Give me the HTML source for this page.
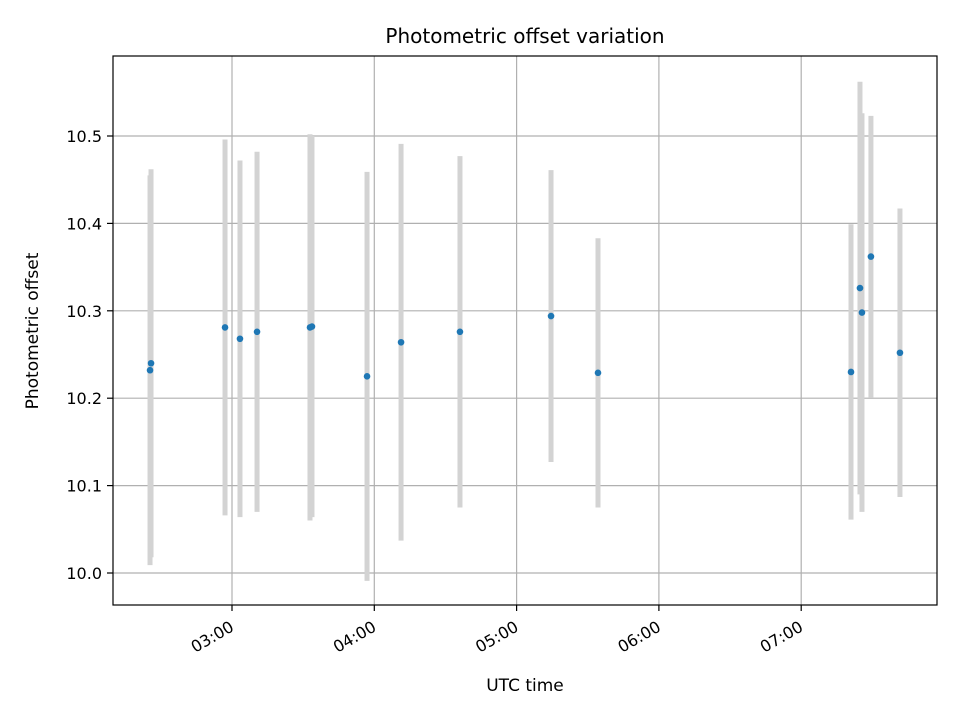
<!DOCTYPE html>
<html><head><meta charset="utf-8"><style>
body{margin:0;background:#fff}
svg{font-family:"DejaVu Sans","Liberation Sans",sans-serif}
</style></head><body>
<svg id="chart" width="960" height="720" viewBox="0 0 960 720" xmlns="http://www.w3.org/2000/svg">
<rect width="960" height="720" fill="#fff"/>
<text x="525" y="43" font-size="20" text-anchor="middle">Photometric offset variation</text>
<g id="grid"></g>
<g id="bars"></g>
<g id="points"></g>
<rect x="113" y="56" width="824" height="549" fill="none" stroke="#000" stroke-width="1.2"/>
<g id="axes"></g>
<text x="525" y="691" font-size="17" text-anchor="middle">UTC time</text>
<text transform="translate(38,331) rotate(-90)" font-size="17" text-anchor="middle">Photometric offset</text>
</svg>
<script>
const times = [2.431,2.424,2.951,3.056,3.176,3.548,3.562,3.949,4.188,4.602,5.242,5.572,7.350,7.413,7.427,7.490,7.694];
const offsets = [10.240,10.232,10.281,10.268,10.276,10.281,10.282,10.225,10.264,10.276,10.294,10.229,10.230,10.326,10.298,10.362,10.252];
const errors = [0.222,0.223,0.215,0.204,0.206,0.221,0.218,0.234,0.227,0.201,0.167,0.154,0.169,0.236,0.228,0.161,0.165];
const yTicks = [10.0,10.1,10.2,10.3,10.4,10.5];
const yTickLabels = ["10.0","10.1","10.2","10.3","10.4","10.5"];
const xTicks = [3,4,5,6,7];
const xTickLabels = ["03:00","04:00","05:00","06:00","07:00"];
const NS="http://www.w3.org/2000/svg";
function xs(h){return 232+(h-3)*142.3;}
function ys(v){return 573-(v-10)*874;}
function mk(tag,attrs,parent){const e=document.createElementNS(NS,tag);for(const k in attrs)e.setAttribute(k,attrs[k]);document.getElementById(parent).appendChild(e);return e;}
yTicks.forEach((v,i)=>{
  const g=mk('line',{x1:113,x2:937,y1:ys(v),y2:ys(v),stroke:'#b0b0b0','stroke-width':1.2},'grid');
  
  
  mk('line',{x1:107,x2:113,y1:ys(v),y2:ys(v),stroke:'#000','stroke-width':1.2},'axes');
  const t=mk('text',{x:102,y:ys(v)+6,'font-size':16,'text-anchor':'end'},'axes');
  t.textContent=yTickLabels[i];
  
  
});
xTicks.forEach((h,i)=>{
  const g=mk('line',{x1:xs(h),x2:xs(h),y1:56,y2:605,stroke:'#b0b0b0','stroke-width':1.2},'grid');
  
  
  mk('line',{x1:xs(h),x2:xs(h),y1:605,y2:611,stroke:'#000','stroke-width':1.2},'axes');
  const t=mk('text',{transform:`translate(${xs(h)+3},${630}) rotate(-30)`,'font-size':16,'text-anchor':'end'},'axes');
  t.textContent=xTickLabels[i];
  
  
});
times.forEach((h,i)=>{
  const b=mk('line',{x1:xs(h),x2:xs(h),y1:ys(offsets[i]+errors[i]),y2:ys(offsets[i]-errors[i]),stroke:'#d3d3d3','stroke-width':5},'bars');
  
  
  const p=mk('circle',{cx:xs(h),cy:ys(offsets[i]),r:3.3,fill:'#1f77b4'},'points');
  
  
});
</script>
</body></html>
